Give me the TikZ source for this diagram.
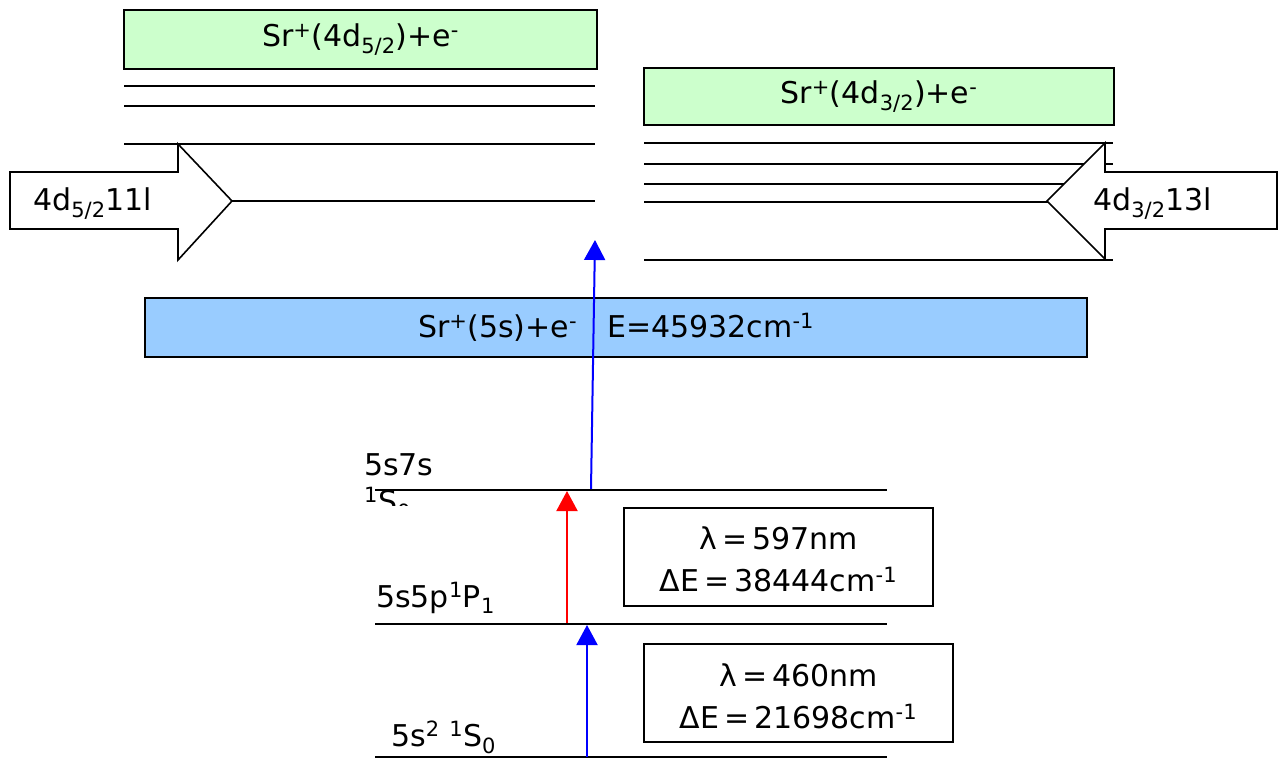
\documentclass[tikz,border=0pt]{standalone}
\usepackage{fontspec}
\setmainfont{DejaVu Sans}
\usepackage{tikz}
\usetikzlibrary{arrows.meta}

\definecolor{ionD}{RGB}{204,255,204}
\definecolor{ionS}{RGB}{153,204,255}

\begin{document}
\begin{tikzpicture}[x=1pt, y=-1pt, >={Triangle[width=21pt,length=20pt]},
    font=\fontsize{30}{39}\selectfont,
    cont/.style={draw, line width=2pt, minimum height=59pt, inner sep=0pt},
    infobox/.style={draw, line width=2pt, fill=white, minimum width=309pt, minimum height=98pt, inner sep=0pt},
    ryd/.style={line width=2pt},
    level/.style={line width=2pt},
    bigarrow/.style={draw, line width=1.6pt, fill=white, line join=miter},
    lbl/.style={anchor=base west, inner sep=0pt},
    trans/.style={line width=2pt, ->}]
    \useasboundingbox (0,0) rectangle (1278,758);

    % Ionisation continua
    \node (d52) at (360.5,39.5) [cont, fill=ionD, minimum width=473pt] {Sr\textsuperscript{+}(4d\textsubscript{5/2})+e\textsuperscript{-}};
    \node (d32) at (879,96.5) [cont, fill=ionD, minimum width=470pt, minimum height=57pt] {Sr\textsuperscript{+}(4d\textsubscript{3/2})+e\textsuperscript{-}};
    \node (s5) at (616,327.5) [cont, fill=ionS, minimum width=942pt] {Sr\textsuperscript{+}(5s)+e\textsuperscript{-}\quad E=45932cm\textsuperscript{-1}};

    % Rydberg series below 4d_{5/2}
    \foreach \y in {86,106,144,201}
        \draw[ryd] (124,\y) -- (595,\y);
    % Rydberg series below 4d_{3/2}
    \foreach \y in {143,164,184,202,260}
        \draw[ryd] (644,\y) -- (1113,\y);

    % Autoionising states
    \draw[bigarrow] (10,172) -- (178,172) -- (178,144) -- (232,201) -- (178,260) -- (178,229) -- (10,229) -- cycle;
    \node (n11) at (33,210) [lbl] {4d\textsubscript{5/2}11l};
    \draw[bigarrow] (1277,172) -- (1105,172) -- (1105,143) -- (1047,201) -- (1105,259) -- (1105,229) -- (1277,229) -- cycle;
    \node (n13) at (1093,210) [lbl] {4d\textsubscript{3/2}13l};

    % Bound levels
    \draw[level] (375,490) -- (887,490);
    \draw[level] (375,624) -- (887,624);
    \draw[level] (375,757) -- (887,757);
    \node (l7s) at (364,475) [lbl] {5s7s};
    \begin{scope}
        \clip (350,440) rectangle (460,505);
        \node (l7sterm) at (364,512) [lbl] {\textsuperscript{1}S\textsubscript{0}};
    \end{scope}
    \node (l5p) at (376,607) [lbl] {5s5p\textsuperscript{1}P\textsubscript{1}};
    \node (lg) at (391,746) [lbl] {5s\textsuperscript{2} \textsuperscript{1}S\textsubscript{0}};

    % Laser steps
    \coordinate (g) at (587,757);
    \coordinate (p1) at (587,625);
    \coordinate (p0) at (567,623);
    \coordinate (s7in) at (567,491);
    \coordinate (s7) at (591,489);
    \coordinate (ion) at (595,240);
    \draw[trans, blue] (g) -- (p1);
    \draw[trans, red] (p0) -- (s7in);
    \draw[trans, blue] (s7) -- (ion);

    \renewcommand{\arraystretch}{1.07}
    \node (w2) at (778.5,556.5) [infobox] {\raisebox{-6pt}[\height][\depth]{\begin{tabular}{@{}c@{}}λ\,=\,597nm\\ΔE\,=\,38444cm\textsuperscript{-1}\end{tabular}}};
    \node (w1) at (798.5,693) [infobox] {\raisebox{-6pt}[\height][\depth]{\begin{tabular}{@{}c@{}}λ\,=\,460nm\\ΔE\,=\,21698cm\textsuperscript{-1}\end{tabular}}};
\end{tikzpicture}
\end{document}
